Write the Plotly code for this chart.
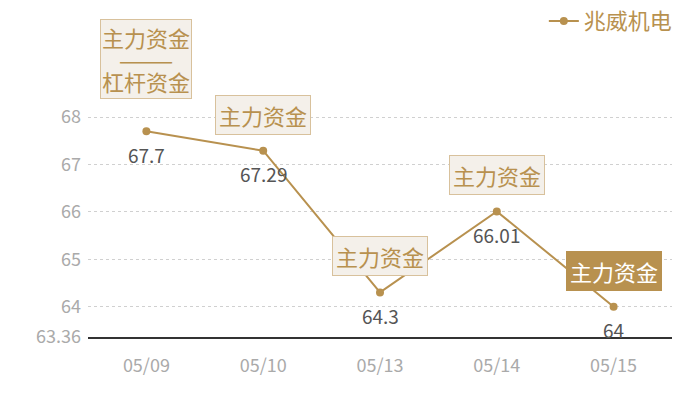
import plotly.graph_objects as go

# data
dates = ["05/09", "05/10", "05/13", "05/14", "05/15"]
prices = [67.7, 67.29, 64.3, 66.01, 64]
labels = ["主力资金<br>———<br>杠杆资金", "主力资金", "主力资金", "主力资金", "主力资金"]
highlight = [False, False, False, False, True]
y_ticks = [63.36, 64, 65, 66, 67, 68, 68.36]
y_ticktext = ["63.36", "64", "65", "66", "67", "68", ""]

gold = "#b8914f"
font = "Noto Sans CJK SC"

fig = go.Figure()
fig.add_trace(go.Scatter(
    x=dates, y=prices, name="兆威机电",
    mode="lines+markers",
    line=dict(color=gold, width=2),
    marker=dict(color=gold, size=8),
))

# value labels under points
for d, p in zip(dates, prices):
    fig.add_annotation(
        x=d, y=p, text=str(p), showarrow=False, yshift=-23,
        font=dict(size=19, family=font, color="#555555"),
    )

# boxed annotations above each point
for d, p, lab, hl in zip(dates, prices, labels, highlight):
    multi = "<br>" in lab
    if multi:
        # tighter line spacing: small base font, big glyphs via spans
        lab = "<br>".join(f"<span style='font-size:22px'>{part}</span>"
                          for part in lab.split("<br>"))
    fig.add_annotation(
        x=d, y=p, text=lab, showarrow=False,
        yanchor="bottom", yshift=32 if multi else 16,
        font=dict(size=17 if multi else 22, family=font,
                  color="#ffffff" if hl else gold),
        bgcolor=gold if hl else "#f4f0ea",
        bordercolor=gold if hl else "#d8c19c",
        borderwidth=1, borderpad=1 if multi else 3,
    )

# page body has an 8px margin, so the figure is 8px smaller
fig.update_layout(
    width=692, height=392,
    margin=dict(l=80, r=28, t=92, b=63, autoexpand=False),
    paper_bgcolor="white", plot_bgcolor="white",
    font=dict(family=font),
    showlegend=True,
    legend=dict(x=1.01, y=1.333, xanchor="right", yanchor="middle",
                font=dict(size=22, color=gold), bgcolor="rgba(0,0,0,0)"),
)
fig.update_xaxes(
    type="category", range=[-0.5, 4.5], automargin=False,
    showgrid=False, showline=True, linecolor="#333333", linewidth=1.5,
    ticks="", tickfont=dict(size=18, color="#aaaaaa"), ticklabelstandoff=12,
)
fig.update_yaxes(
    range=[63.36, 68.36], tickvals=y_ticks, ticktext=y_ticktext, automargin=False,
    showgrid=True, gridcolor="#d0d0d0", griddash="dot", gridwidth=1,
    zeroline=False, showline=False,
    tickfont=dict(size=18, color="#aaaaaa"), ticklabelstandoff=6,
)

fig.write_html("out.html")
